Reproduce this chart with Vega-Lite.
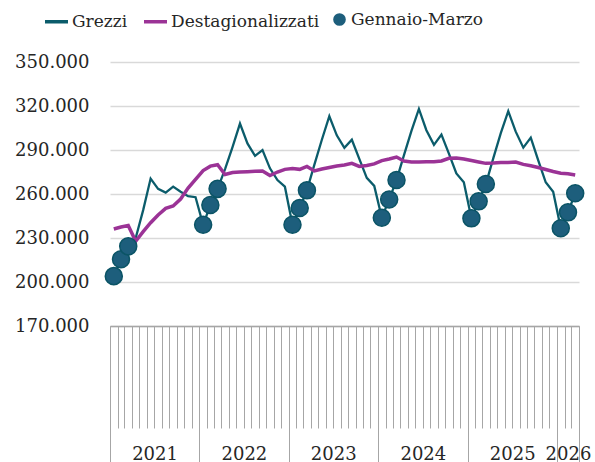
{
  "$schema": "https://vega.github.io/schema/vega-lite/v6.json",
  "width": 469,
  "height": 264,
  "autosize": {"type": "none"},
  "padding": {"left": 110, "top": 62, "right": 16, "bottom": 136},
  "background": "white",
  "config": {
    "font": "DejaVu Serif",
    "view": {"stroke": null},
    "axis": {"labelFont": "DejaVu Serif", "labelFontSize": 18, "labelColor": "#262626"},
    "legend": {"labelFont": "DejaVu Serif", "labelFontSize": 17, "labelColor": "#262626"}
  },
  "data": {
    "values": [
      {"mese": "2021-01-01", "Grezzi": 204000, "Destagionalizzati": 236100},
      {"mese": "2021-02-01", "Grezzi": 215500, "Destagionalizzati": 237500},
      {"mese": "2021-03-01", "Grezzi": 224300, "Destagionalizzati": 238500},
      {"mese": "2021-04-01", "Grezzi": 230000, "Destagionalizzati": 227800},
      {"mese": "2021-05-01", "Grezzi": 249000, "Destagionalizzati": 234300},
      {"mese": "2021-06-01", "Grezzi": 270500, "Destagionalizzati": 240400},
      {"mese": "2021-07-01", "Grezzi": 263500, "Destagionalizzati": 245700},
      {"mese": "2021-08-01", "Grezzi": 261000, "Destagionalizzati": 250200},
      {"mese": "2021-09-01", "Grezzi": 265000, "Destagionalizzati": 251800},
      {"mese": "2021-10-01", "Grezzi": 261500, "Destagionalizzati": 256600},
      {"mese": "2021-11-01", "Grezzi": 258500, "Destagionalizzati": 264000},
      {"mese": "2021-12-01", "Grezzi": 257800, "Destagionalizzati": 270000},
      {"mese": "2022-01-01", "Grezzi": 239000, "Destagionalizzati": 276000},
      {"mese": "2022-02-01", "Grezzi": 252500, "Destagionalizzati": 279000},
      {"mese": "2022-03-01", "Grezzi": 263500, "Destagionalizzati": 280000},
      {"mese": "2022-04-01", "Grezzi": 277000, "Destagionalizzati": 273300},
      {"mese": "2022-05-01", "Grezzi": 292000, "Destagionalizzati": 274700},
      {"mese": "2022-06-01", "Grezzi": 308000, "Destagionalizzati": 275000},
      {"mese": "2022-07-01", "Grezzi": 294500, "Destagionalizzati": 275200},
      {"mese": "2022-08-01", "Grezzi": 286000, "Destagionalizzati": 275500},
      {"mese": "2022-09-01", "Grezzi": 290000, "Destagionalizzati": 275700},
      {"mese": "2022-10-01", "Grezzi": 277500, "Destagionalizzati": 272600},
      {"mese": "2022-11-01", "Grezzi": 269500, "Destagionalizzati": 275000},
      {"mese": "2022-12-01", "Grezzi": 265000, "Destagionalizzati": 276800},
      {"mese": "2023-01-01", "Grezzi": 239000, "Destagionalizzati": 277400},
      {"mese": "2023-02-01", "Grezzi": 250500, "Destagionalizzati": 276800},
      {"mese": "2023-03-01", "Grezzi": 262500, "Destagionalizzati": 278800},
      {"mese": "2023-04-01", "Grezzi": 280000, "Destagionalizzati": 275700},
      {"mese": "2023-05-01", "Grezzi": 297000, "Destagionalizzati": 277000},
      {"mese": "2023-06-01", "Grezzi": 313000, "Destagionalizzati": 278100},
      {"mese": "2023-07-01", "Grezzi": 300000, "Destagionalizzati": 279100},
      {"mese": "2023-08-01", "Grezzi": 291500, "Destagionalizzati": 279800},
      {"mese": "2023-09-01", "Grezzi": 297000, "Destagionalizzati": 280900},
      {"mese": "2023-10-01", "Grezzi": 284000, "Destagionalizzati": 278800},
      {"mese": "2023-11-01", "Grezzi": 271000, "Destagionalizzati": 279400},
      {"mese": "2023-12-01", "Grezzi": 265500, "Destagionalizzati": 280500},
      {"mese": "2024-01-01", "Grezzi": 243800, "Destagionalizzati": 282800},
      {"mese": "2024-02-01", "Grezzi": 256300, "Destagionalizzati": 283900},
      {"mese": "2024-03-01", "Grezzi": 269500, "Destagionalizzati": 285200},
      {"mese": "2024-04-01", "Grezzi": 286500, "Destagionalizzati": 282500},
      {"mese": "2024-05-01", "Grezzi": 303000, "Destagionalizzati": 281800},
      {"mese": "2024-06-01", "Grezzi": 318000, "Destagionalizzati": 281800},
      {"mese": "2024-07-01", "Grezzi": 303500, "Destagionalizzati": 282000},
      {"mese": "2024-08-01", "Grezzi": 293500, "Destagionalizzati": 282000},
      {"mese": "2024-09-01", "Grezzi": 300500, "Destagionalizzati": 282500},
      {"mese": "2024-10-01", "Grezzi": 287500, "Destagionalizzati": 284300},
      {"mese": "2024-11-01", "Grezzi": 274000, "Destagionalizzati": 284500},
      {"mese": "2024-12-01", "Grezzi": 268000, "Destagionalizzati": 283900},
      {"mese": "2025-01-01", "Grezzi": 243400, "Destagionalizzati": 282800},
      {"mese": "2025-02-01", "Grezzi": 255000, "Destagionalizzati": 281800},
      {"mese": "2025-03-01", "Grezzi": 266800, "Destagionalizzati": 280900},
      {"mese": "2025-04-01", "Grezzi": 284500, "Destagionalizzati": 281100},
      {"mese": "2025-05-01", "Grezzi": 301500, "Destagionalizzati": 281500},
      {"mese": "2025-06-01", "Grezzi": 316500, "Destagionalizzati": 281500},
      {"mese": "2025-07-01", "Grezzi": 302500, "Destagionalizzati": 281800},
      {"mese": "2025-08-01", "Grezzi": 291600, "Destagionalizzati": 280200},
      {"mese": "2025-09-01", "Grezzi": 298400, "Destagionalizzati": 279300},
      {"mese": "2025-10-01", "Grezzi": 283000, "Destagionalizzati": 278100},
      {"mese": "2025-11-01", "Grezzi": 268000, "Destagionalizzati": 276700},
      {"mese": "2025-12-01", "Grezzi": 261500, "Destagionalizzati": 275300},
      {"mese": "2026-01-01", "Grezzi": 236600, "Destagionalizzati": 274100},
      {"mese": "2026-02-01", "Grezzi": 247500, "Destagionalizzati": 273800},
      {"mese": "2026-03-01", "Grezzi": 260500, "Destagionalizzati": 273000}
    ]
  },
  "layer": [
    {
      "mark": {"type": "line", "strokeWidth": 2.3},
      "encoding": {
        "x": {
          "field": "mese", "type": "temporal", "timeUnit": "utcyearmonth", "bandPosition": 0.5,
          "scale": {"type": "utc", "nice": false, "domain": [{"year": 2021, "month": 1, "date": 1, "utc": true}, {"year": 2026, "month": 4, "date": 1, "utc": true}]},
          "axis": {"orient": "bottom", "title": null, "tickCount": {"interval": "month", "step": 1}, "labels": false, "grid": false, "ticks": true, "tickSize": 102, "tickColor": "#a6a6a6", "tickWidth": 1, "domain": true, "domainColor": "#a6a6a6", "domainWidth": 1.5}
        },
        "y": {
          "field": "Grezzi", "type": "quantitative",
          "scale": {"domain": [170000, 350000], "nice": false, "zero": false},
          "axis": {"title": null, "values": [170000, 200000, 230000, 260000, 290000, 320000, 350000], "grid": true, "gridColor": "#d9d9d9", "gridWidth": 1.5, "domain": false, "ticks": false, "tickSize": 0, "labelPadding": 21, "labelExpr": "replace(format(datum.value, ','), ',', '.')"}
        },
        "color": {
          "datum": "Grezzi",
          "scale": {"domain": ["Grezzi", "Destagionalizzati"], "range": ["#0b5c6b", "#9b3396"]},
          "legend": {"title": null, "orient": "none", "legendX": -67, "legendY": -54, "direction": "horizontal", "symbolType": "stroke", "symbolSize": 529, "symbolStrokeWidth": 3.5, "labelOffset": 2, "columnPadding": 9, "padding": 0}
        }
      }
    },
    {
      "mark": {"type": "line", "strokeWidth": 3.5},
      "encoding": {
        "x": {
          "field": "mese", "type": "temporal", "timeUnit": "utcyearmonth", "bandPosition": 0.5,
          "axis": {"orient": "bottom", "title": null, "values": [
            {"year": 2021, "month": 1, "date": 1, "utc": true},
            {"year": 2022, "month": 1, "date": 1, "utc": true},
            {"year": 2023, "month": 1, "date": 1, "utc": true},
            {"year": 2024, "month": 1, "date": 1, "utc": true},
            {"year": 2025, "month": 1, "date": 1, "utc": true},
            {"year": 2026, "month": 1, "date": 1, "utc": true},
            {"year": 2026, "month": 4, "date": 1, "utc": true}
          ], "labels": false, "grid": false, "domain": false, "tickSize": 140, "tickColor": "#a6a6a6", "tickWidth": 1}
        },
        "y": {
          "field": "Destagionalizzati", "type": "quantitative",
          "axis": {"title": null, "values": [170000, 200000, 230000, 260000, 290000, 320000, 350000], "grid": true, "gridColor": "#d9d9d9", "gridWidth": 1.5, "domain": false, "ticks": false, "tickSize": 0, "labelPadding": 21, "labelExpr": "replace(format(datum.value, ','), ',', '.')"}
        },
        "color": {"datum": "Destagionalizzati"}
      }
    },
    {
      "transform": [{"filter": "utcmonth(toDate(datum.mese)) < 3"}],
      "mark": {"type": "point", "filled": true, "size": 290, "fill": "#1d5e7c", "stroke": "#0b5466", "strokeWidth": 1.5, "opacity": 1},
      "encoding": {
        "x": {
          "field": "mese", "type": "temporal", "timeUnit": "utcyearmonth", "bandPosition": 0.5,
          "axis": {"orient": "bottom", "title": null, "values": [
            {"year": 2021, "month": 7, "date": 2, "utc": true},
            {"year": 2022, "month": 7, "date": 2, "utc": true},
            {"year": 2023, "month": 7, "date": 2, "utc": true},
            {"year": 2024, "month": 7, "date": 2, "utc": true},
            {"year": 2025, "month": 7, "date": 2, "utc": true},
            {"year": 2026, "month": 2, "date": 15, "utc": true}
          ], "format": "%Y", "ticks": false, "tickSize": 0, "domain": false, "grid": false, "labelPadding": 119, "labelOverlap": false, "labelFlush": false, "labelBound": false}
        },
        "y": {
          "field": "Grezzi", "type": "quantitative",
          "axis": {"title": null, "values": [170000, 200000, 230000, 260000, 290000, 320000, 350000], "grid": true, "gridColor": "#d9d9d9", "gridWidth": 1.5, "domain": false, "ticks": false, "tickSize": 0, "labelPadding": 21, "labelExpr": "replace(format(datum.value, ','), ',', '.')"}
        },
        "shape": {
          "datum": "Gennaio-Marzo",
          "scale": {"range": ["circle"]},
          "legend": {"title": null, "orient": "none", "legendX": 221, "legendY": -51, "symbolSize": 160, "symbolFillColor": "#1d5e7c", "symbolStrokeColor": "#1d5e7c", "symbolStrokeWidth": 0, "labelOffset": 3, "padding": 0}
        }
      }
    }
  ],
  "resolve": {"axis": {"x": "independent"}}
}
